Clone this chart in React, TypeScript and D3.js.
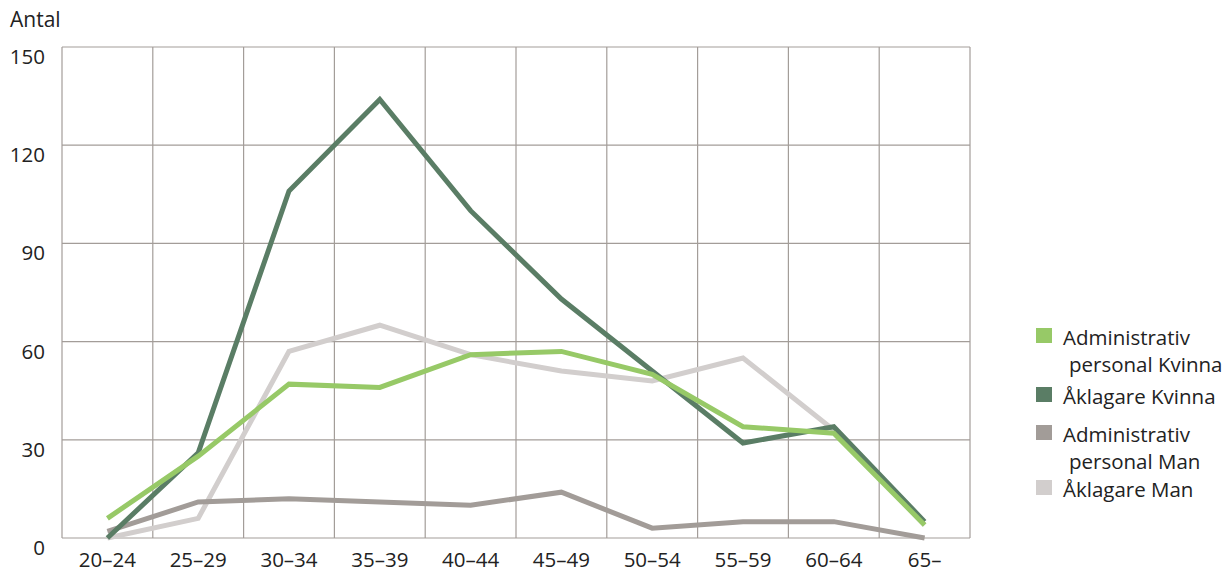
import React, { useEffect, useRef } from "react";
import * as d3 from "d3";

const categories = ["20–24", "25–29", "30–34", "35–39", "40–44", "45–49", "50–54", "55–59", "60–64", "65–"];
const yTicks = [0, 30, 60, 90, 120, 150];

const admKvinna = [6, 25, 47, 46, 56, 57, 50, 34, 32, 4];
const aklKvinna = [0, 26, 106, 134, 100, 73, 51, 29, 34, 5];
const admMan = [2, 11, 12, 11, 10, 14, 3, 5, 5, 0];
const aklMan = [0, 6, 57, 65, 56, 51, 48, 55, 33, 4];

const seriesNames = ["Administrativ personal Kvinna", "Åklagare Kvinna", "Administrativ personal Man", "Åklagare Man"];
const seriesLines = [["Administrativ", "personal Kvinna"], ["Åklagare Kvinna"], ["Administrativ", "personal Man"], ["Åklagare Man"]];
const seriesColors = ["#97c967", "#5a7d65", "#a29c98", "#d2cecd"];
const seriesValues = [admKvinna, aklKvinna, admMan, aklMan];

const App: React.FC = () => {
  const svgRef = useRef<SVGSVGElement>(null);

  useEffect(() => {
    if (!svgRef.current) return;
    const root = d3.select(svgRef.current);
    root.selectAll("*").remove();

    const left = 62, right = 970, top = 47, bottom = 538;
    const font = "'Open Sans', sans-serif";
    const fs = 20.5;

    const x = d3.scaleBand<string>().domain(categories).range([left, right]);
    const y = d3.scaleLinear().domain([0, 150]).range([bottom, top]);

    const grid = root.append("g");
    // horizontal gridlines
    yTicks.forEach((t) => {
      grid.append("line")
        .attr("x1", left).attr("x2", right)
        .attr("y1", y(t)).attr("y2", y(t))
        .attr("stroke", "#a39d99").attr("stroke-width", 1.2);
    });
    // vertical gridlines at band edges
    categories.forEach((c) => {
      grid.append("line")
        .attr("x1", x(c)!).attr("x2", x(c)!)
        .attr("y1", top).attr("y2", bottom)
        .attr("stroke", "#a39d99").attr("stroke-width", 1.2);
    });
    grid.append("line")
      .attr("x1", right).attr("x2", right)
      .attr("y1", top).attr("y2", bottom)
      .attr("stroke", "#a39d99").attr("stroke-width", 1.2);

    // y labels
    root.append("g").selectAll("text").data(yTicks).join("text")
      .attr("x", 45).attr("y", (d) => y(d) + 17)
      .attr("text-anchor", "end")
      .attr("font-family", font).attr("font-size", fs).attr("fill", "#222")
      .text((d) => d);

    // x labels
    root.append("g").selectAll("text").data(categories).join("text")
      .attr("x", (d) => x(d)! + x.bandwidth() / 2).attr("y", 567)
      .attr("text-anchor", "middle")
      .attr("font-family", font).attr("font-size", fs).attr("fill", "#222")
      .text((d) => d);

    root.append("text")
      .attr("x", 10).attr("y", 27)
      .attr("font-family", font).attr("font-size", 21).attr("fill", "#222")
      .text("Antal");

    const line = d3.line<number>()
      .x((_, i) => x(categories[i])! + x.bandwidth() / 2)
      .y((d) => y(d));

    // draw in reverse legend order
    [3, 2, 1, 0].forEach((i) => {
      root.append("path")
        .datum(seriesValues[i])
        .attr("fill", "none")
        .attr("stroke", seriesColors[i])
        .attr("stroke-width", 5)
        .attr("stroke-linejoin", "miter")
        .attr("d", line)
        .append("title").text(seriesNames[i]);
    });

    // legend
    const rowStarts = [328, 387, 425, 480];
    const legend = root.append("g");
    seriesLines.forEach((lines, i) => {
      legend.append("rect")
        .attr("x", 1036).attr("y", rowStarts[i])
        .attr("width", 16).attr("height", 15)
        .attr("fill", seriesColors[i]);
      lines.forEach((t, j) => {
        legend.append("text")
          .attr("x", j === 0 ? 1063 : 1069)
          .attr("y", rowStarts[i] + 17 + j * 27)
          .attr("font-family", font).attr("font-size", fs).attr("fill", "#222")
          .text(t);
      });
    });
  }, []);

  return (
    <svg ref={svgRef} width={1227} height={573}
      style={{ position: "absolute", left: 0, top: 0, background: "#fff" }} />
  );
};

export default App;
